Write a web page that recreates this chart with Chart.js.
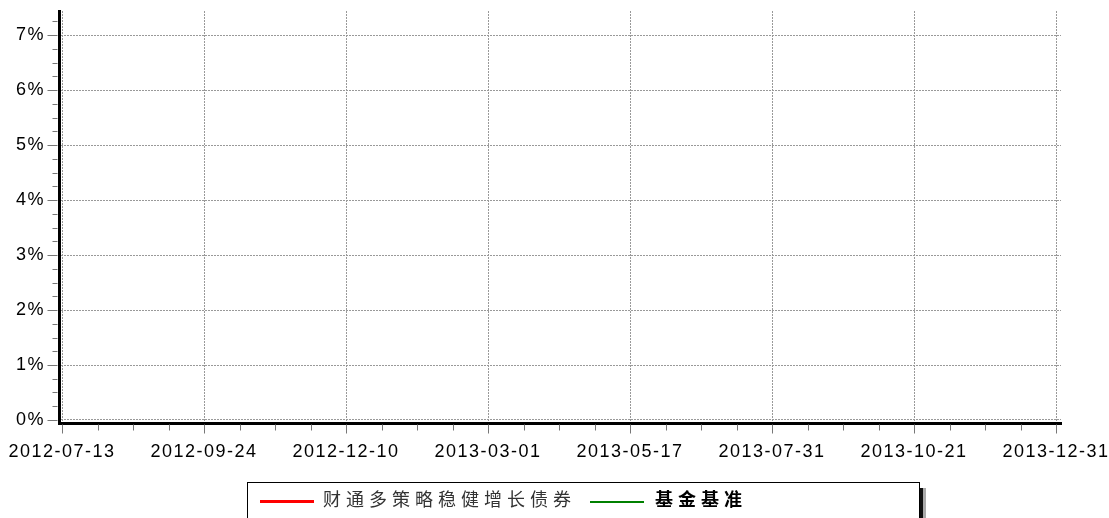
<!DOCTYPE html>
<html>
<head>
<meta charset="utf-8">
<script src="https://cdn.jsdelivr.net/npm/chart.js@4"></script>
<style>
  body { margin: 0; background: #fff; }
  #wrap { position: relative; width: 1109px; height: 518px; overflow: hidden; }
  #legend { position: absolute; left: 247px; top: 482px; width: 671px; height: 44px;
            border: 1px solid #000; background: #fff;
            box-shadow: 3px 6px 0 #111, 6px 6px 0 #aaa; }
  .swatch { position: absolute; }
  .ltext { position: absolute; top: 4px; font-family: "Noto Sans CJK SC", sans-serif;
           font-size: 18px; line-height: 22px; letter-spacing: 5px; white-space: nowrap; }
</style>
</head>
<body>
<div id="wrap">
  <canvas id="chart" width="1109" height="518"></canvas>
  <div id="legend">
    <div class="swatch" style="left:12px;top:17px;width:54px;height:3px;background:#ff0000"></div>
    <div class="ltext" style="left:75px;color:#333">财通多策略稳健增长债券</div>
    <div class="swatch" style="left:342px;top:18px;width:54px;height:2px;background:#008000"></div>
    <div class="ltext" style="left:407px;color:#000;font-weight:bold">基金基准</div>
  </div>
</div>
<script>
// x axis: one slot per minor tick, a date label every 4th
const dateLabels = ['2012-07-13', '2012-09-24', '2012-12-10', '2013-03-01',
                    '2013-05-17', '2013-07-31', '2013-10-21', '2013-12-31'];
const yTicks = [0, 1, 2, 3, 4, 5, 6, 7];
// nothing is plotted in the picture, both series are empty
const fundValues = [];
const benchValues = [];

const seriesNames = ['财通多策略稳健增长债券', '基金基准'];

// draws the short tick marks (major + minor) outside the axes
const tickMarks = {
  id: 'tickMarks',
  beforeDraw(chart) {
    chart.ctx.letterSpacing = '1.5px';
  },
  afterDraw(chart) {
    const ctx = chart.ctx;
    const xs = chart.scales.x, ys = chart.scales.y;
    const left = chart.chartArea.left, bottom = chart.chartArea.bottom;
    ctx.save();
    ctx.strokeStyle = '#777';
    ctx.lineWidth = 1;
    for (let v = 0; v <= 7.25 + 1e-9; v += 0.25) {
      const y = Math.round(ys.getPixelForValue(v)) + 0.5;
      const len = (Math.abs(v - Math.round(v)) < 1e-6) ? 10 : 5;
      ctx.beginPath();
      ctx.moveTo(left - 1.5 - len, y);
      ctx.lineTo(left - 1.5, y);
      ctx.stroke();
    }
    for (let i = 0; i <= 28; i++) {
      const x = Math.round(xs.getPixelForValue(i)) + 0.5;
      const len = (i % 4 == 0) ? 9 : 6;
      ctx.beginPath();
      ctx.moveTo(x, bottom + 1.5);
      ctx.lineTo(x, bottom + 1.5 + len);
      ctx.stroke();
    }
    ctx.restore();
  }
};

// fixed axis sizes, no extra padding for the labels
function fitX(axis) {
  axis.height = 95;
  axis.paddingLeft = 0; axis.paddingRight = 0;
  axis.paddingTop = 0; axis.paddingBottom = 0;
}
function fitY(axis) {
  axis.width = 59;
  axis.paddingLeft = 0; axis.paddingRight = 0;
  axis.paddingTop = 0; axis.paddingBottom = 0;
}

const data = {
  datasets: [{
    label: seriesNames[0],
    borderColor: '#ff0000',
    backgroundColor: '#ff0000',
    borderWidth: 3,
    pointRadius: 0,
    data: fundValues
  }, {
    label: seriesNames[1],
    borderColor: '#008000',
    backgroundColor: '#008000',
    borderWidth: 2,
    pointRadius: 0,
    data: benchValues
  }]
};

const config = {
  type: 'line',
  data: data,
  options: {
    responsive: false,
    animation: false,
    layout: { padding: { top: 11, right: 48, left: 0, bottom: 0 } },
    plugins: { legend: { display: false }, tooltip: { enabled: false } },
    scales: {
      x: {
        type: 'linear',
        min: -0.085,
        max: 28.14,
        afterBuildTicks: axis => { axis.ticks = dateLabels.map((d, i) => ({ value: i * 4 })); },
        afterFit: fitX,
        grid: { color: '#999', drawTicks: false, lineWidth: 1 },
        border: { display: true, color: '#000', width: 3, dash: [2, 1] },
        ticks: {
          autoSkip: false, maxRotation: 0, padding: 18,
          color: '#000', font: { family: 'Liberation Sans', size: 18 },
          callback: (v) => dateLabels[Math.round(v / 4)]
        }
      },
      y: {
        type: 'linear',
        min: -0.055,
        max: 7.44,
        afterBuildTicks: axis => { axis.ticks = yTicks.map(v => ({ value: v })); },
        afterFit: fitY,
        grid: { color: '#999', drawTicks: false, lineWidth: 1 },
        border: { display: true, color: '#000', width: 3, dash: [2, 1] },
        ticks: {
          padding: 14,
          color: '#000', font: { family: 'Liberation Sans', size: 18 },
          callback: (v) => v + '%'
        }
      }
    }
  },
  plugins: [tickMarks]
};

var myChart = new Chart(document.getElementById('chart').getContext('2d'), config);
</script>
</body>
</html>
